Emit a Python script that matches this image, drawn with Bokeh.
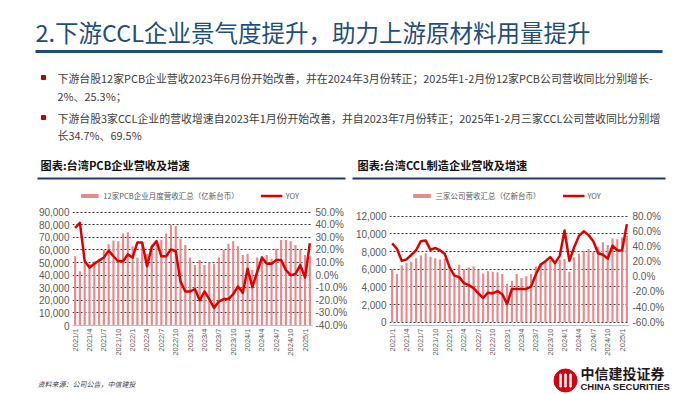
import math
from bokeh.plotting import figure
from bokeh.layouts import column, row
from bokeh.models import (Range1d, LinearAxis, FixedTicker, NumeralTickFormatter,
                          PrintfTickFormatter, Legend, LegendItem)
from bokeh.core.properties import value
from bokeh.embed import file_html
from bokeh.resources import INLINE

# ---------------- data ----------------
months = ["2021/1", "2021/2", "2021/3", "2021/4", "2021/5", "2021/6", "2021/7", "2021/8", "2021/9", "2021/10", "2021/11", "2021/12",
          "2022/1", "2022/2", "2022/3", "2022/4", "2022/5", "2022/6", "2022/7", "2022/8", "2022/9", "2022/10", "2022/11", "2022/12",
          "2023/1", "2023/2", "2023/3", "2023/4", "2023/5", "2023/6", "2023/7", "2023/8", "2023/9", "2023/10", "2023/11", "2023/12",
          "2024/1", "2024/2", "2024/3", "2024/4", "2024/5", "2024/6", "2024/7", "2024/8", "2024/9", "2024/10", "2024/11", "2024/12",
          "2025/1", "2025/2"]
tick_months = ["2021/1", "2021/4", "2021/7", "2021/10", "2022/1", "2022/4", "2022/7", "2022/10",
               "2023/1", "2023/4", "2023/7", "2023/10", "2024/1", "2024/4", "2024/7", "2024/10", "2025/1"]

pcb_revenue = [55000, 43000, 50000, 49000, 51000, 53000, 60000, 64500, 67500, 67000, 73000, 74000,
               63000, 54000, 66000, 57000, 63000, 64000, 68000, 73000, 80000, 79000, 69000, 64000,
               54000, 48000, 52000, 48000, 50000, 49000, 54000, 60000, 65000, 67000, 63000, 56000,
               57000, 44000, 54000, 55000, 56000, 53000, 61000, 68000, 68000, 67000, 64000, 60000,
               56000, 55000]
pcb_yoy = [37.5, 41.5, 11, 6, 9, 11.5, 14, 19.5, 15, 11, 11, 16.5,
           14, 26, 26, 7, 22.5, 27, 15, 15, 20.5, 19, -5, -13,
           -13, -11, -20, -13, -19, -26, -21, -19, -19, -15, -9, -14,
           5, -9.5, 2.5, 14, 9, 9, 12, 12, 4, 0, 1, 8,
           -2, 25.3]

ccl_revenue = [6000, 5450, 6450, 6700, 6850, 7250, 7550, 7800, 7400, 7250, 7100, 7200,
               6300, 5500, 6500, 6000, 6200, 6300, 5900, 5500, 5800, 5700, 5650, 5450,
               4350, 4700, 5450, 5000, 5200, 5450, 6300, 6700, 6850, 7050, 6800, 7100,
               7150, 5700, 7350, 7750, 8100, 8300, 7950, 8550, 9050, 8750, 9500, 9400,
               9600, 9800]
ccl_yoy = [44, 37, 21, 23, 29, 35, 47, 48, 35.5, 38, 35, 30,
           12.5, 1.5, -0.5, -8.5, -11, -15, -22, -28, -21, -22, -19, -23,
           -36, -16, -16, -16, -16, -13, 3, 16, 20.5, 26, 18, 28,
           61, 21, 39, 54, 60, 55, 47, 31, 29, 24, 41, 35,
           34.7, 69.5]

title_text = "2.下游CCL企业景气度提升，助力上游原材料用量提升"
bullet_lines = ["下游台股12家PCB企业营收2023年6月份开始改善，并在2024年3月份转正；2025年1-2月份12家PCB公司营收同比分别增长-",
                "2%、25.3%；",
                "下游台股3家CCL企业的营收增速自2023年1月份开始改善，并自2023年7月份转正；2025年1-2月三家CCL公司营收同比分别增",
                "长34.7%、69.5%"]
chart_titles = ["图表:台湾PCB企业营收及增速", "图表:台湾CCL制造企业营收及增速"]
legend_labels = ["12家PCB企业月度营收汇总（亿新台币）", "三家公司营收汇总（亿新台币）"]
source_text = "资料来源：公司公告，中信建投"

CJK = value("Noto Sans CJK SC")
ARIAL = "Liberation Sans"
BLUE = "#1F4E79"
NAVY = "#1F3864"
BAR = "#E8898C"
RED = "#DD0000"
GRAY = "#595959"

# chart frame: page y 188 .. 325 (both charts), page x 72..312 / 389..629
FRAME_TOP, FRAME_BOT = 188, 325


def blank(w, h, x0, x1, y0, y1):
    p = figure(width=w, height=h, x_range=Range1d(x0, x1), y_range=Range1d(y1, y0),
               output_backend="svg", toolbar_location=None, x_axis_type=None, y_axis_type=None,
               min_border=0, min_border_left=0, min_border_right=0, min_border_top=0, min_border_bottom=0)
    p.grid.visible = False
    p.outline_line_color = None
    return p


# ---------------- top decoration ----------------
top = blank(700, 184, 0, 700, 0, 184)
top.text(x=[35], y=[31], text=[title_text], text_font=CJK, text_font_size=value("23.5px"),
         text_color=BLUE, text_baseline="middle")
top.line(x=[35, 662], y=[51, 51], line_color=BLUE, line_width=3)
top.scatter(x=[43, 43], y=[77, 117], marker="square", size=4, color="#C00000")
top.text(x=[57, 57, 57, 57], y=[77, 95, 117, 134], text=bullet_lines, text_font=CJK,
         text_font_size=value("10.9px"), text_color="#404040", text_baseline="middle")
top.text(x=[40, 357], y=[164, 164], text=chart_titles, text_font=CJK, text_font_size=value("11.2px"),
         text_font_style="bold", text_color="#111111", text_baseline="middle")
top.line(x=[37, 345], y=[178, 178], line_color=NAVY, line_width=2)
top.line(x=[352, 665], y=[178, 178], line_color=NAVY, line_width=2)


# ---------------- charts ----------------
def chart(rev, yoy, ymax, ystep, ylo, yhi, ystep2, label, bl, br, y_top_px, y_bot_px):
    """y_top_px / y_bot_px: page y where the top tick and the 0 / lowest tick sit."""
    idx = list(range(len(months)))
    upp = ymax / (y_bot_px - y_top_px)              # units per pixel, left axis
    upp2 = (yhi - ylo) / (y_bot_px - y_top_px)      # units per pixel, right axis
    y_range = Range1d(-(FRAME_BOT - y_bot_px) * upp, ymax + (y_top_px - FRAME_TOP) * upp)
    y2_range = Range1d(ylo - (FRAME_BOT - y_bot_px) * upp2, yhi + (y_top_px - FRAME_TOP) * upp2)
    p = figure(width=350, height=176, x_range=Range1d(-0.55, 49.55), y_range=y_range,
               output_backend="svg", toolbar_location=None,
               min_border_left=bl, min_border_right=br, min_border_top=FRAME_TOP - 184,
               min_border_bottom=360 - FRAME_BOT)
    p.title.visible = False
    p.outline_line_color = None
    p.extra_y_ranges = {"yoy": y2_range}
    bars = p.vbar(x=idx, top=rev, width=0.45, fill_color=BAR, line_color=None)
    ln = p.line(x=idx, y=yoy, y_range_name="yoy", line_color=RED, line_width=2.5, line_join="round")

    p.xgrid.visible = False
    p.ygrid.grid_line_color = "#333333"
    p.ygrid.grid_line_dash = "2 2"
    p.ygrid.grid_line_width = 1
    p.yaxis.ticker = FixedTicker(ticks=list(range(0, ymax + 1, ystep)))
    p.yaxis.formatter = NumeralTickFormatter(format="0,0")

    ax2 = LinearAxis(y_range_name="yoy", ticker=FixedTicker(ticks=list(range(ylo, yhi + 1, ystep2))),
                     formatter=PrintfTickFormatter(format="%.1f%%"))
    p.add_layout(ax2, "right")

    tick_pos = [months.index(m) for m in tick_months]
    p.xaxis.ticker = FixedTicker(ticks=tick_pos)
    p.xaxis.major_label_overrides = {i: months[i] for i in tick_pos}
    p.xaxis.major_label_orientation = math.pi / 2
    p.xaxis.major_label_text_font_size = "7.5px"
    p.xaxis.axis_line_color = "#BFBFBF"

    for ax in p.yaxis + p.xaxis:
        ax.axis_label = None
        ax.major_tick_line_color = None
        ax.minor_tick_line_color = None
        ax.major_tick_out = 0
        ax.major_tick_in = 0
        ax.minor_tick_out = 0
        ax.minor_tick_in = 0
        ax.major_label_text_color = GRAY
        ax.major_label_text_font = ARIAL
        ax.major_label_standoff = 3
    for ax in p.yaxis:
        ax.axis_line_color = None
        ax.major_label_text_font_size = "10px"

    leg = Legend(items=[LegendItem(label=label, renderers=[bars]), LegendItem(label="YOY", renderers=[ln])],
                 orientation="horizontal", location="top_center", border_line_color=None,
                 background_fill_alpha=0, label_text_font="Noto Sans CJK SC",
                 label_text_font_size="7.5px", label_text_color=GRAY, glyph_width=22, glyph_height=5,
                 spacing=22, padding=0, margin=2, label_standoff=3, label_height=10)
    p.add_layout(leg)
    return p


left = chart(pcb_revenue, pcb_yoy, 90000, 10000, -40, 50, 10, legend_labels[0], 72, 38, 211.7, 325)
right = chart(ccl_revenue, ccl_yoy, 12000, 2000, -60, 80, 20, legend_labels[1], 39, 71, 215.7, 321.7)

# ---------------- bottom ----------------
bottom = blank(700, 34, 0, 700, 360, 394)
bottom.text(x=[37], y=[383], text=[source_text], text_font=CJK, text_font_size=value("7px"),
            text_font_style="italic", text_color="#404040", text_baseline="middle")
bottom.scatter(x=[565], y=[380], marker="circle", size=23, color="#D7000F")
bottom.rect(x=[560, 565, 570], y=[380, 380, 380], width=1.4, height=13, color="white")
bottom.text(x=[580], y=[372], text=["中信建投证券"], text_font=CJK, text_font_size=value("14px"),
            text_font_style="bold", text_color="#231815", text_baseline="middle")
bottom.text(x=[580], y=[386], text=["CHINA SECURITIES"], text_font=value(ARIAL), text_font_size=value("9.5px"),
            text_font_style="bold", text_color="#231815", text_baseline="middle")

layout = column(top, row(left, right, spacing=0), bottom, spacing=0)
open("out.html", "w").write(file_html(layout, INLINE))
